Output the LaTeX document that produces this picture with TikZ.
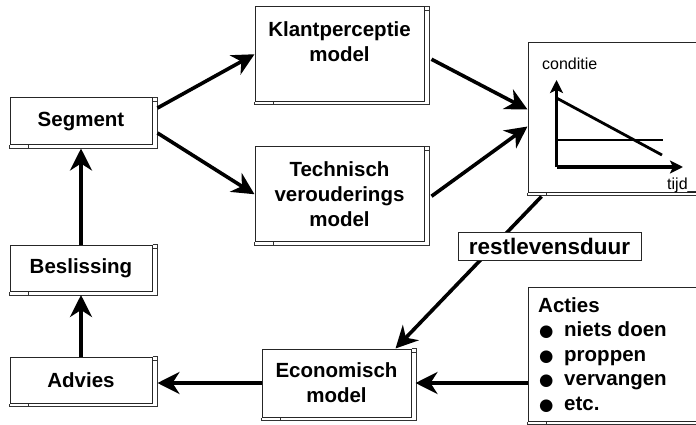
\documentclass[tikz,border=0pt]{standalone}
\usepackage{fontspec}
\setmainfont{Liberation Sans}
\newfontfamily\dejavu{DejaVu Sans}
\usetikzlibrary{arrows.meta,calc}
\tikzset{
  wbox/.style={draw=black!85, line width=1pt, fill=white, inner sep=0pt, align=center,
    font=\bfseries\fontsize{20.5}{25}\selectfont},
  conn/.style={line width=3.6pt, -{Stealth[length=22pt,width=22pt,inset=7pt]}},
  axisline/.style={line width=3.2pt, -{Stealth[length=13pt,width=13pt,inset=3pt]}},
  plotline/.style={line width=2.8pt},
  strip/.style={draw=black!80, line width=1pt},
  smalltext/.style={inner sep=0pt, font=\fontsize{16}{19}\selectfont},
}
\newcommand\winframe[1]{%
  \draw[strip] (#1.north east) -- ++(5,0) |- ($(#1.south west)+(0,3)$) -- (#1.south west);
  \draw[strip] ($(#1.north east)+(0,4)$) -- ++(5,0);
  \draw[strip] ($(#1.south west)+(19,0)$) -- ++(0,3);
}
\newcommand\bul{\makebox[26pt][l]{\hspace{1pt}{\dejavu\fontsize{16.5}{16}\selectfont ●}}}
\begin{document}
\begin{tikzpicture}[x=1pt,y=-1pt]
\useasboundingbox (0,0) rectangle (696,425);
\fill[white] (0,0) rectangle (696,425);
\clip (0,0) rectangle (696,425);

% boxes
\node[wbox, minimum width=142pt, minimum height=47pt] (seg) at (81,121.5) {Segment};
\node[wbox, minimum width=169pt, minimum height=94.5pt] (klant) at (339.5,54.25) {Klantperceptie\\model\\\mbox{}};
\node[wbox, minimum width=169pt, minimum height=94.5pt] (tech) at (339.5,194.25) {Technisch\\verouderings\\model};
\node[wbox, minimum width=177pt, minimum height=149pt] (graph) at (616.5,117.5) {};
\node[wbox, minimum width=142pt, minimum height=46.5pt] (besl) at (81,268.25) {Beslissing};
\node[wbox, minimum width=142pt, minimum height=46pt] (advies) at (81,380) {Advies};
\node[wbox, minimum width=149pt, minimum height=68pt] (econ) at (336.5,383) {Economisch\\model};
\node[wbox, minimum width=177pt, minimum height=134pt] (acties) at (616.5,354) {};

\winframe{seg}
\winframe{klant}
\winframe{tech}
\winframe{graph}
\winframe{besl}
\winframe{advies}
\winframe{econ}
\winframe{acties}

% graph contents
\coordinate (O) at (556.5,167);
\draw[axisline] (O) -- (556.5,80);
\draw[axisline] (O) -- (683,167);
\draw[plotline] (556.5,98) -- (662,155);
\draw[plotline] (556.5,140) -- (663,140);
\node[smalltext, anchor=base west] (cond) at (542,70) {conditie};
\node[smalltext, anchor=base west] (tijd) at (667,189) {tijd\_};

% acties text
\node[inner sep=0pt, anchor=north west, align=left, font=\bfseries\fontsize{20.5}{24.5}\selectfont] (actxt) at (538,297)
  {Acties\\\bul niets doen\\\bul proppen\\\bul vervangen\\\bul etc.};

% connectors
\draw[conn] ($(seg.east)+(5,-13.5)$) -- (klant.west);
\draw[conn] ($(seg.east)+(5,11.5)$) -- (tech.west);
\draw[conn] ($(klant.east)+(7,5)$) -- ($(graph.west)+(0,-8)$);
\draw[conn] ($(tech.east)+(7,2)$) -- ($(graph.west)+(0,9)$);
\draw[conn] ($(graph.south west)+(14,4)$) -- ($(econ.north east)+(-16,0)$);
\node[draw=black!85, line width=1pt, fill=white, minimum width=183pt, minimum height=28pt, inner sep=0pt,
  font=\bfseries\fontsize{22.5}{25}\selectfont] (rest) at (549.5,246) {restlevensduur};
\draw[conn] ($(acties.west)+(0,29)$) -- ($(econ.east)+(4,0)$);
\draw[conn] (econ.west) -- ($(advies.east)+(5,3)$);
\draw[conn] (advies.north) -- ($(besl.south)+(0,3)$);
\draw[conn] (besl.north) -- ($(seg.south)+(0,3)$);
\end{tikzpicture}
\end{document}
